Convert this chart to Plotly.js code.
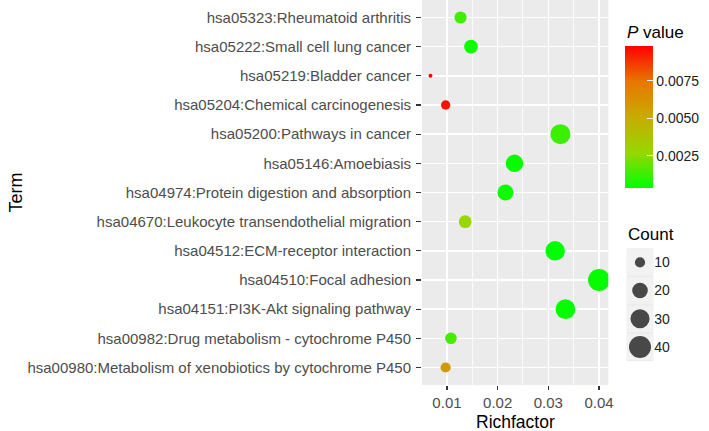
<!DOCTYPE html>
<html>
<head>
<meta charset="utf-8">
<script src="https://cdn.plot.ly/plotly-3.0.1.min.js"></script>
<style>html,body{margin:0;padding:0;background:#fff;}#chart{width:709px;height:431px;}</style>
</head>
<body>
<div id="chart"></div>
<script>
// ---- data (bottom to top) ----
const terms = [
  'hsa00980:Metabolism of xenobiotics by cytochrome P450',
  'hsa00982:Drug metabolism - cytochrome P450',
  'hsa04151:PI3K-Akt signaling pathway',
  'hsa04510:Focal adhesion',
  'hsa04512:ECM-receptor interaction',
  'hsa04670:Leukocyte transendothelial migration',
  'hsa04974:Protein digestion and absorption',
  'hsa05146:Amoebiasis',
  'hsa05200:Pathways in cancer',
  'hsa05204:Chemical carcinogenesis',
  'hsa05219:Bladder cancer',
  'hsa05222:Small cell lung cancer',
  'hsa05323:Rheumatoid arthritis'
];
const richFactor = [0.00974, 0.01079, 0.03337, 0.04001, 0.03134, 0.01360, 0.02154, 0.02332, 0.03238, 0.00974, 0.00675, 0.01474, 0.01268];
const geneCount  = [10, 12, 32, 40, 31, 14, 21, 25, 33, 9, 6, 16, 13];
const pValue     = [0.0058, 0.0014, 0.0004, 0.0004, 0.0003, 0.0027, 0.0005, 0.0004, 0.0012, 0.0095, 0.0098, 0.0005, 0.0013];
const xTicks = [0.01, 0.02, 0.03, 0.04];
const pTicks = [0.0025, 0.0050, 0.0075];
const pTickText = ['0.0025', '0.0050', '0.0075'];
const legendCounts = [10, 20, 30, 40];

// ---- styling helpers ----
const W = 709, H = 431;
const FONT = 'Liberation Sans, Arial, sans-serif';
const cMin = Math.min(...geneCount), cMax = Math.max(...geneCount);
const sizeOf = c => 4 + 18 * Math.sqrt(Math.max(0, (c - cMin) / (cMax - cMin)));
const pMin = Math.min(...pValue), pMax = Math.max(...pValue);
const colorscale = [
  [0, 'rgb(0,255,0)'],
  [0.25, 'rgb(152,215,0)'],
  [0.5, 'rgb(200,171,0)'],
  [0.75, 'rgb(232,118,0)'],
  [1, 'rgb(255,0,0)']
];

// colorbar geometry (px)
const cbLeft = 625, cbThick = 28, cbTop = 46.7, cbBottom = 188.3;
const cbLen = cbBottom - cbTop;

const mainTrace = {
  type: 'scatter', mode: 'markers',
  x: richFactor, y: terms,
  xaxis: 'x', yaxis: 'y',
  marker: {
    size: geneCount.map(sizeOf),
    color: pValue, cmin: pMin, cmax: pMax,
    colorscale: colorscale,
    line: {width: 0},
    opacity: 1,
    showscale: true,
    colorbar: {
      thickness: cbThick, thicknessmode: 'pixels',
      len: cbLen, lenmode: 'pixels',
      x: cbLeft / W, xanchor: 'left', xpad: 0,
      y: (H - (cbTop + cbBottom) / 2) / H, yanchor: 'middle', ypad: 0,
      outlinewidth: 0,
      ticks: 'inside', ticklen: 6, tickwidth: 1.2, tickcolor: 'white',
      tickvals: pTicks, ticktext: pTickText,
      tickfont: {family: FONT, size: 14, color: '#222'}
    }
  },
  hoverinfo: 'x+y', showlegend: false
};

const legendTrace = {
  type: 'scatter', mode: 'markers',
  x: legendCounts.map(() => 0), y: legendCounts,
  xaxis: 'x2', yaxis: 'y2',
  marker: {size: legendCounts.map(sizeOf), color: '#000', line: {width: 0}},
  hoverinfo: 'skip', showlegend: false
};

const shapes = [];
// key backgrounds for Count legend
legendCounts.forEach(c => {
  shapes.push({type: 'rect', xref: 'x2 domain', yref: 'y2', x0: 0, x1: 1, y0: c - 4.7, y1: c + 4.7,
    fillcolor: '#F2F2F2', line: {width: 0}, layer: 'below'});
});
// left-side white ticks on the colorbar (ggplot style)
pTicks.forEach(v => {
  const py = cbBottom - (v - pMin) / (pMax - pMin) * cbLen;
  shapes.push({type: 'line', xref: 'paper', yref: 'paper',
    x0: cbLeft / W, x1: (cbLeft + 6) / W, y0: (H - py) / H, y1: (H - py) / H,
    line: {color: 'white', width: 1.2}, layer: 'above'});
});

const layout = {
  width: W, height: H,
  margin: {l: 0, r: 0, t: 0, b: 0, pad: 0},
  paper_bgcolor: '#fff',
  plot_bgcolor: '#EBEBEB',
  font: {family: FONT},
  showlegend: false,
  xaxis: {
    domain: [422 / W, 608.3 / W], anchor: 'y',
    range: [0.005076, 0.04183],
    tickvals: xTicks, ticktext: xTicks.map(v => String(v)),
    ticks: 'outside', ticklen: 4, tickwidth: 1.2, tickcolor: '#333',
    tickfont: {family: FONT, size: 15, color: '#4D4D4D'},
    showgrid: true, gridcolor: '#fff', gridwidth: 1.6,
    minor: {dtick: 0.005, tick0: 0.005, showgrid: true, gridcolor: '#fff', gridwidth: 0.8, ticks: ''},
    zeroline: false, showline: false, fixedrange: true
  },
  yaxis: {
    domain: [46 / H, 1], anchor: 'x',
    type: 'category', categoryorder: 'array', categoryarray: terms,
    range: [-0.6, terms.length - 0.4],
    ticks: 'outside', ticklen: 5, tickwidth: 1.2, tickcolor: '#333',
    ticklabelstandoff: 2,
    tickfont: {family: FONT, size: 15, color: '#4D4D4D'},
    showgrid: true, gridcolor: '#fff', gridwidth: 1.6,
    zeroline: false, showline: false, fixedrange: true
  },
  xaxis2: {
    domain: [626.7 / W, 653.3 / W], anchor: 'y2', range: [-1, 1],
    visible: false, fixedrange: true
  },
  yaxis2: {
    domain: [(H - 361) / H, (H - 248.3) / H], anchor: 'x2', side: 'right',
    range: [45, 5], tickvals: legendCounts, ticks: '',
    tickfont: {family: FONT, size: 14, color: '#222'},
    showgrid: false, zeroline: false, showline: false, fixedrange: true
  },
  shapes: shapes,
  annotations: [
    {text: 'Richfactor', xref: 'paper', yref: 'paper', x: (422 + 608.3) / 2 / W, y: (H - 421.5) / H,
     xanchor: 'center', yanchor: 'middle', showarrow: false, font: {family: FONT, size: 17.5, color: '#000'}},
    {text: 'Term', xref: 'paper', yref: 'paper', x: 16 / W, y: (H - 192.5) / H, textangle: -90,
     xanchor: 'center', yanchor: 'middle', showarrow: false, font: {family: FONT, size: 18, color: '#000'}},
    {text: '<i>P</i> value', xref: 'paper', yref: 'paper', x: 625 / W, y: (H - 33) / H,
     xanchor: 'left', yanchor: 'middle', showarrow: false, font: {family: FONT, size: 17, color: '#000'}},
    {text: 'Count', xref: 'paper', yref: 'paper', x: 626 / W, y: (H - 235) / H,
     xanchor: 'left', yanchor: 'middle', showarrow: false, font: {family: FONT, size: 17, color: '#000'}}
  ]
};

Plotly.newPlot('chart', [mainTrace, legendTrace], layout, {displayModeBar: false, staticPlot: true});
</script>
</body>
</html>
